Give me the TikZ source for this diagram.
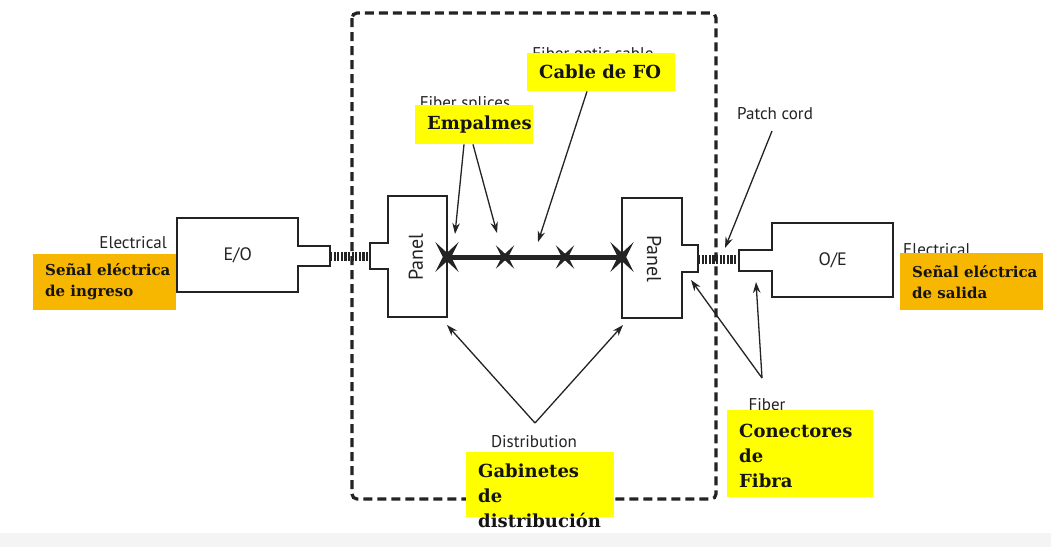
\documentclass[tikz,border=0pt]{standalone}
\usepackage{fontspec}
\setmainfont{DejaVu Serif}
\newfontfamily\engfont{PT Sans}
\usetikzlibrary{arrows.meta,calc}
\definecolor{orangebox}{RGB}{247,182,0}
\definecolor{yellowbox}{RGB}{255,255,0}
\definecolor{inkgray}{RGB}{35,35,35}
\definecolor{bandgray}{RGB}{244,244,244}
\begin{document}
\begin{tikzpicture}[x=1pt,y=-1pt,
  eng/.style={font=\engfont\fontsize{17}{19}\selectfont, text=inkgray, inner sep=0pt},
  sptext/.style={font=\bfseries\fontsize{18}{25}\selectfont, text=black!92, align=left, inner sep=0pt},
  sporange/.style={font=\bfseries\fontsize{15}{21}\selectfont, text=black!92, align=left, inner sep=0pt},
  obox/.style={fill=orangebox, inner sep=0pt, anchor=north west},
  ybox/.style={fill=yellowbox, inner sep=0pt, anchor=north west},
  outline/.style={draw=inkgray, line width=1.5pt, line join=miter},
  hatch/.style={draw=inkgray, line width=9pt, dash pattern=on 2.2pt off 1.4pt},
  cabinet/.style={draw=inkgray, line width=3.2pt, dash pattern=on 9pt off 5pt, rounded corners=5pt},
  pointer/.style={draw=inkgray, line width=1.3pt, -{Stealth[length=11pt,width=7.5pt]}},
  pics/xstar/.style={code={
    \fill[inkgray] (52:#1) -- (90:0.22*#1) -- (128:#1) -- (180:0.22*#1) -- (232:#1)
      -- (270:0.22*#1) -- (308:#1) -- (0:0.22*#1) -- cycle;}}
]
\useasboundingbox (0,0) rectangle (1051,547);
\fill[white] (0,0) rectangle (1051,547);
\fill[bandgray] (0,533) rectangle (1051,547);

% cabinet (dashed)
\draw[cabinet] (352,13) rectangle (716,499);

% E/O transmitter
\node[inner sep=0pt, minimum width=121pt, minimum height=74pt, anchor=north west] (eo) at (177,218) {};
\node[eng, font=\engfont\fontsize{18}{20}\selectfont] (eotext) at (eo.center) {E/O};
\draw[outline] (298,246) -- (298,218) -- (177,218) -- (177,292) -- (298,292) -- (298,266) -- (330,266) -- (330,246) -- cycle;
\coordinate (eoplug) at (330,256);

% left panel
\node[inner sep=0pt, minimum width=59pt, minimum height=121pt, anchor=north west] (lp) at (388,196) {};
\node[eng, font=\engfont\fontsize{20}{22}\selectfont, rotate=90] (lptext) at (416,257) {Panel};
\draw[outline] (388,243) -- (388,196) -- (447,196) -- (447,317) -- (388,317) -- (388,269) -- (370,269) -- (370,243) -- cycle;
\coordinate (lpplug) at (370,256);

% right panel
\node[inner sep=0pt, minimum width=60pt, minimum height=120pt, anchor=north west] (rp) at (622,198) {};
\node[eng, font=\engfont\fontsize{20}{22}\selectfont, rotate=-90] (rptext) at (654,259) {Panel};
\draw[outline] (682,245) -- (682,198) -- (622,198) -- (622,318) -- (682,318) -- (682,272) -- (698,272) -- (698,245) -- cycle;
\coordinate (rpplug) at (698,259);

% O/E receiver
\node[inner sep=0pt, minimum width=121pt, minimum height=74pt, anchor=north west] (oe) at (772,223) {};
\node[eng, font=\engfont\fontsize{18}{20}\selectfont] (oetext) at (oe.center) {O/E};
\draw[outline] (772,250) -- (772,223) -- (893,223) -- (893,297) -- (772,297) -- (772,271) -- (739,271) -- (739,250) -- cycle;
\coordinate (oeplug) at (739,259);

% patch cords (hatched)
\draw[hatch] (eoplug) -- (lpplug);
\draw[hatch] (rpplug) -- (oeplug);

% fibre cable with splices
\coordinate (s1) at (447,257);
\coordinate (s2) at (505,257);
\coordinate (s3) at (565,257);
\coordinate (s4) at (622,257);
\draw[inkgray, line width=5pt] (s1) -- (s4);
\pic at (s1) {xstar=19};
\pic at (s2) {xstar=15};
\pic at (s3) {xstar=15};
\pic at (s4) {xstar=19};

% English labels (partly covered)
\node[eng, anchor=east] (elecL) at (167,243) {Electrical};
\node[eng, anchor=west] (elecR) at (903,250) {Electrical};
\node[eng] (splices) at (465,104) {Fiber splices};
\node[eng] (foc) at (593,55) {Fiber optic cable};
\node[eng] (patch) at (775,114) {Patch cord};
\node[eng] (distr) at (534,442) {Distribution};
\node[eng] (fiber) at (767,405) {Fiber};

% Spanish labels
\node[obox, minimum width=143pt, minimum height=56pt] (inbox) at (33,254) {};
\node[sporange, anchor=west] (intext) at (45,282) {Señal eléctrica\\de ingreso};
\node[obox, minimum width=143pt, minimum height=57pt] (outbox) at (900,253) {};
\node[sporange, anchor=west] (outtext) at (912,282) {Señal eléctrica\\de salida};
\node[ybox, minimum width=118pt, minimum height=39pt] (empbox) at (415,105) {};
\node[sptext, anchor=west] (emptext) at (427,125) {Empalmes};
\node[ybox, minimum width=148pt, minimum height=38pt] (cablebox) at (527,53) {};
\node[sptext, anchor=west] (cabletext) at (539,72) {Cable de FO};
\node[ybox, minimum width=148pt, minimum height=65pt] (gabbox) at (466,452) {};
\node[sptext, anchor=north west] (gabtext) at (478,464) {Gabinetes\\de\\distribución};
\node[ybox, minimum width=146pt, minimum height=87pt] (conbox) at (727,410) {};
\node[sptext, anchor=north west] (context) at (739,424) {Conectores\\de\\Fibra};

% pointers
\coordinate (empA) at ($(empbox.south west)+(49,0)$);
\coordinate (empB) at ($(empbox.south west)+(58,0)$);
\coordinate (t1) at (455,234);
\coordinate (t2) at (497,233);
\draw[pointer] (empA) -- (t1);
\draw[pointer] (empB) -- (t2);
\coordinate (cabA) at ($(cablebox.south west)+(60,0)$);
\coordinate (t3) at (538,242);
\draw[pointer] (cabA) -- (t3);
\coordinate (patchA) at (772,131);
\coordinate (t4) at (725,248);
\draw[pointer] (patchA) -- (t4);
\coordinate (distA) at (535,423);
\coordinate (t5) at (447,325);
\coordinate (t6) at (623,325);
\draw[pointer] (distA) -- (t5);
\draw[pointer] (distA) -- (t6);
\coordinate (fibA) at (762,378);
\coordinate (t7) at (691,280);
\coordinate (t8) at (756,282);
\draw[pointer] (fibA) -- (t7);
\draw[pointer] (fibA) -- (t8);
\end{tikzpicture}
\end{document}
